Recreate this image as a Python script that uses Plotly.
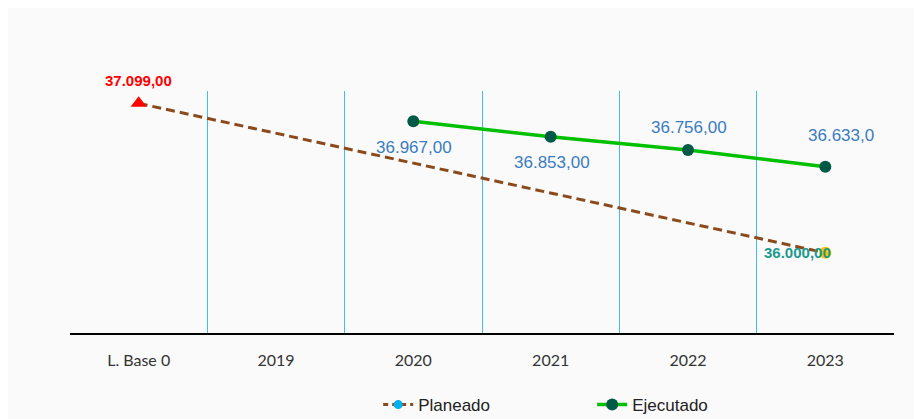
import plotly.graph_objects as go

categories = ["L. Base 0", "2019", "2020", "2021", "2022", "2023"]
planeado = [37099, None, None, None, None, 36000]
ejecutado = [None, None, 36967, 36853, 36756, 36633]
ejec_labels = ["36.967,00", "36.853,00", "36.756,00", "36.633,0"]
ejec_label_pos = ["below", "below", "above", "above"]

fig = go.Figure()

# Planeado line (dashed)
fig.add_trace(go.Scatter(
    x=categories, y=planeado, mode="lines", connectgaps=True,
    line=dict(color="#8B4A1C", width=3, dash="9px,5px"),
    showlegend=False, hoverinfo="skip"))
fig.add_trace(go.Scatter(
    x=[categories[0]], y=[planeado[0]], mode="markers",
    marker=dict(symbol="triangle-up", color="#FF0000", size=14),
    showlegend=False))
fig.add_trace(go.Scatter(
    x=[categories[-1]], y=[planeado[-1]], mode="markers",
    marker=dict(symbol="circle", color="#FFC000", size=12),
    showlegend=False))
# legend entry for planeado
fig.add_trace(go.Scatter(
    x=[None], y=[None], mode="lines+markers", name="Planeado",
    line=dict(color="#8B4A1C", width=3, dash="5px,4px"),
    marker=dict(color="#00B0F0", size=9)))

# Ejecutado
fig.add_trace(go.Scatter(
    x=categories, y=ejecutado, mode="lines+markers", name="Ejecutado",
    line=dict(color="#00C000", width=3.5),
    marker=dict(color="#005A46", size=12)))

# labels (x given as category index)
fig.add_annotation(x=0, y=planeado[0], text="<b>37.099,00</b>",
                   showarrow=False, yshift=23,
                   font=dict(family="Liberation Sans", size=15, color="#FF0000"))
fig.add_annotation(x=len(categories) - 1, y=planeado[-1], text="<b>36.000,00</b>",
                   showarrow=False, xshift=-28,
                   font=dict(family="Liberation Sans", size=15, color="#1A9A8F"))
idx = [i for i, v in enumerate(ejecutado) if v is not None]
for k, (i, t, p) in enumerate(zip(idx, ejec_labels, ejec_label_pos)):
    last = k == len(idx) - 1
    xs = 16 if last else 1
    ys = -26 if p == "below" else (31 if last else 23)
    fig.add_annotation(x=i, y=ejecutado[i], text=t, showarrow=False, xshift=xs, yshift=ys,
                       font=dict(family="Liberation Sans", size=17, color="#3A7CC0"))

fig.update_layout(
    width=914, height=411,
    margin=dict(l=62, r=28, t=83, b=86),
    paper_bgcolor="#FAFAFA", plot_bgcolor="#FAFAFA",
    showlegend=True,
    legend=dict(orientation="h", x=0.374, xanchor="left",
                yref="container", y=0.034, yanchor="middle",
                font=dict(family="Liberation Sans", size=17, color="#222222"),
                entrywidth=169, bgcolor="rgba(0,0,0,0)"),
    xaxis=dict(type="category", categoryorder="array", categoryarray=categories,
               range=[-0.5, 5.5], tickson="boundaries", showgrid=True,
               gridcolor="#3CBFEF", gridwidth=1, ticks="",
               ticklabelstandoff=12,
               showline=True, linecolor="#000000", linewidth=2,
               tickfont=dict(family="Lato", size=16, color="#333333"),
               zeroline=False, fixedrange=True),
    yaxis=dict(range=[35410, 37190], visible=False, showgrid=False, zeroline=False),
)

fig.write_html("out.html")
